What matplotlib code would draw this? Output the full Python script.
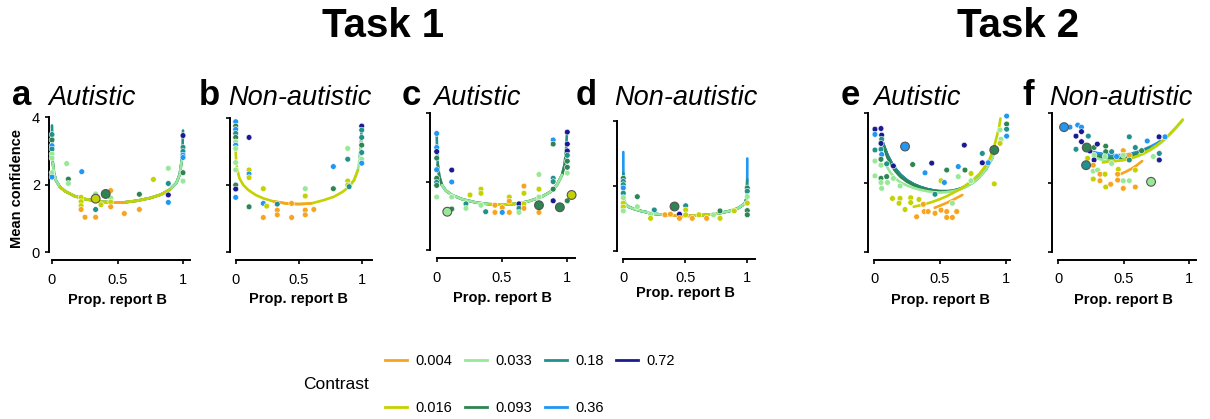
import matplotlib
matplotlib.use("Agg")
import matplotlib.pyplot as plt
from matplotlib.lines import Line2D
import numpy as np

plt.rcParams["font.family"] = ["Liberation Sans", "DejaVu Sans"]

W, H = 1210, 419

# ---- contrast levels and their colours ----
CONTRASTS = ["0.004", "0.016", "0.033", "0.093", "0.18", "0.36", "0.72"]
COLORS = ["#F7A51F", "#C3D200", "#98E898", "#2E8452", "#21918C", "#2196F3", "#1B1B8F"]

# ---- panel a (task 1, autistic) ----
A_X = [0, 0, 0, 0, 0, 0, 0, 0, 0.112, 0.227, 0.125, 0.125, 0.222, 0.222, 0.222, 0.222, 0.252,
       0.333, 0.333, 0.333, 0.374, 0.448, 0.448, 0.448, 0.448, 0.552, 0.667, 0.667, 0.774,
       0.888, 0.888, 0.888, 0.888, 1, 1, 1, 1, 1, 1, 1]
A_Y = [3.48, 3.32, 3.15, 3.05, 2.9, 2.78, 2.35, 2.22, 2.62, 2.38, 2.16, 2.03, 1.62, 1.49, 1.37, 1.26, 1.03,
       1.72, 1.26, 1.03, 1.40, 1.82, 1.6, 1.48, 1.34, 1.14, 1.71, 1.26, 2.15,
       2.48, 2.03, 1.69, 1.47, 3.45, 3.1, 2.98, 2.87, 2.8, 2.35, 2.1]
A_C = [4, 3, 5, 4, 2, 2, 2, 5, 2, 5, 3, 2, 1, 1, 1, 0, 0,
       2, 4, 0, 1, 0, 2, 1, 0, 0, 3, 0, 1,
       2, 4, 6, 5, 6, 4, 4, 5, 5, 3, 2]
A_BIG_X = [0.333, 0.41]
A_BIG_Y = [1.58, 1.72]
A_BIG_C = [1, 3]
A_CURVE_X = [0.0, 0.002, 0.006, 0.015, 0.03, 0.06, 0.1, 0.17, 0.25, 0.35, 0.45, 0.55, 0.65, 0.75,
             0.83, 0.9, 0.95, 0.975, 0.99, 0.997, 1.0]
A_CURVE_Y = [3.75, 3.2, 2.65, 2.35, 2.12, 1.93, 1.8, 1.66, 1.57, 1.5, 1.47, 1.47, 1.52, 1.6,
             1.7, 1.85, 2.05, 2.3, 2.7, 3.15, 3.6]
A_SEGS = [(4, 0.0, 1.0), (3, 0.003, 0.997), (2, 0.006, 0.99), (1, 0.06, 0.9), (0, 0.45, 0.55)]

# ---- panel b (task 1, non-autistic) ----
B_X = [0, 0, 0, 0, 0, 0, 0, 0, 0, 0, 0, 0, 0,
       0.106, 0.106, 0.106, 0.106, 0.106, 0.219, 0.219, 0.246, 0.219, 0.33, 0.33, 0.33, 0.444, 0.444,
       0.552, 0.552, 0.552, 0.552, 0.62, 0.775, 0.775, 0.889, 0.889, 0.889, 0.889, 0.9,
       1, 1, 1, 1, 1, 1, 1]
B_Y = [3.89, 3.76, 3.66, 3.54, 3.42, 3.29, 3.19, 3.09, 2.67, 2.45, 2.0, 1.88, 1.63,
       3.42, 2.45, 2.33, 2.22, 1.35, 1.89, 1.45, 1.37, 1.03, 1.43, 1.25, 1.11, 1.45, 1.03,
       1.89, 1.67, 1.25, 1.11, 1.27, 2.55, 1.89, 3.09, 2.77, 2.12, 2.0, 1.95,
       3.76, 3.64, 3.42, 3.19, 2.97, 2.77, 2.65]
B_C = [5, 3, 5, 4, 3, 2, 5, 2, 2, 2, 3, 6, 5,
       6, 1, 5, 1, 3, 1, 5, 1, 0, 4, 0, 0, 0, 0,
       2, 1, 0, 0, 0, 5, 3, 2, 4, 1, 1, 4,
       6, 4, 4, 3, 4, 2, 5]
B_CURVE_X = [0.0, 0.003, 0.01, 0.03, 0.06, 0.1, 0.16, 0.22, 0.3, 0.4, 0.5, 0.6, 0.7, 0.78,
             0.85, 0.9, 0.94, 0.97, 0.985, 0.995, 1.0]
B_CURVE_Y = [3.0, 2.75, 2.5, 2.2, 2.0, 1.85, 1.7, 1.6, 1.51, 1.45, 1.43, 1.45, 1.55, 1.65,
             1.8, 1.95, 2.15, 2.45, 2.8, 3.3, 3.75]
B_SEGS = [(4, 0.985, 1.0), (2, 0.9, 0.995), (1, 0.0, 0.97), (0, 0.3, 0.6)]

# ---- panel c (task 1, autistic) ----
C_X = [0, 0, 0, 0, 0, 0, 0, 0, 0,
       0.115, 0.115, 0.115, 0.115, 0.224, 0.224, 0.255, 0.339, 0.339, 0.339, 0.375, 0.446, 0.446,
       0.502, 0.502, 0.556, 0.556, 0.556, 0.63, 0.63, 0.63, 0.668, 0.668, 0.668, 0.668,
       0.783, 0.783, 0.783, 0.783, 0.892, 0.892, 0.892, 0.892, 0.892, 0.892, 1.0,
       1, 1, 1, 1, 1, 1, 1]
C_Y = [3.41, 3.0, 2.88, 2.69, 2.35, 2.1, 1.98, 1.89, 1.55,
       2.34, 1.99, 1.55, 1.2, 1.35, 1.22, 1.61, 1.78, 1.66, 1.31, 1.12, 1.31, 1.1,
       1.24, 1.1, 1.55, 1.43, 1.1, 1.35, 1.22, 1.1, 1.87, 1.66, 1.35, 1.22,
       2.21, 1.78, 1.55, 1.1, 3.22, 3.1, 2.1, 2.0, 1.78, 1.44, 1.44,
       3.45, 3.1, 2.9, 2.77, 2.6, 2.42, 2.25]
C_C = [5, 5, 6, 3, 5, 3, 4, 3, 2,
       6, 5, 2, 3, 4, 2, 1, 1, 1, 2, 4, 0, 0,
       0, 5, 1, 0, 0, 6, 4, 2, 0, 1, 1, 0,
       2, 1, 2, 0, 5, 3, 4, 4, 3, 6, 3,
       6, 6, 6, 4, 3, 3, 2]
C_BIG_X = [0.081, 0.783, 0.943, 1.033]
C_BIG_Y = [1.12, 1.31, 1.25, 1.61]
C_BIG_C = [2, 3, 3, 1]
C_CURVE_X = [0.0, 0.003, 0.008, 0.02, 0.04, 0.07, 0.12, 0.2, 0.3, 0.4, 0.5, 0.6, 0.7, 0.8,
             0.87, 0.92, 0.96, 0.98, 0.99, 0.997]
C_CURVE_Y = [3.4, 2.9, 2.5, 2.15, 1.9, 1.74, 1.6, 1.48, 1.39, 1.34, 1.33, 1.35, 1.42, 1.55,
             1.7, 1.9, 2.2, 2.5, 2.9, 3.4]
C_SEGS = [(4, 0.0, 1.0), (3, 0.008, 0.99), (2, 0.04, 0.96), (1, 0.4, 0.6)]

# ---- panel d (task 1, non-autistic) ----
D_X = [0, 0, 0, 0, 0, 0, 0, 0, 0,
       0.113, 0.113, 0.25, 0.22, 0.22, 0.336, 0.38, 0.453, 0.453, 0.503, 0.503, 0.503,
       0.556, 0.61, 0.672, 0.727, 0.78, 0.78, 0.895,
       1, 1, 1, 1, 1, 1]
D_Y = [2.24, 2.14, 2.04, 1.94, 1.78, 1.64, 1.47, 1.35, 1.23,
       1.67, 1.36, 1.26, 1.13, 1.0, 1.11, 1.13, 1.13, 1.0, 1.39, 1.26, 1.11,
       1.0, 1.11, 1.0, 1.11, 1.23, 1.0, 1.23,
       1.94, 1.84, 1.67, 1.47, 1.24, 1.11]
D_C = [3, 4, 4, 5, 4, 2, 1, 1, 2,
       3, 2, 4, 2, 1, 0, 0, 6, 0, 4, 1, 1,
       0, 1, 0, 2, 3, 1, 1,
       3, 4, 2, 1, 3, 3]
D_BIG_X = [0.41]
D_BIG_Y = [1.39]
D_BIG_C = [3]
D_CURVE_X = [0.0, 0.0005, 0.002, 0.006, 0.015, 0.04, 0.08, 0.15, 0.25, 0.35, 0.45, 0.55, 0.65,
             0.75, 0.85, 0.92, 0.96, 0.985, 0.995, 0.9995, 1.0]
D_CURVE_Y = [3.05, 2.4, 1.9, 1.6, 1.45, 1.36, 1.3, 1.22, 1.14, 1.1, 1.08, 1.08, 1.1,
             1.14, 1.22, 1.3, 1.4, 1.5, 1.65, 2.2, 2.85]
D_SEGS = [(5, 0.0, 1.0), (4, 0.0005, 0.9995), (3, 0.002, 0.998), (2, 0.006, 0.985),
          (1, 0.3, 0.75), (0, 0.35, 0.55)]

# ---- panel e (task 2, autistic) ----
E_X = [0.005, 0.051, 0.005, 0.056, 0.056, 0.051, 0.005, 0.051, 0.056, 0.005, 0.051, 0.051, 0.094,
       0.005, 0.051, 0.051, 0.094, 0.1, 0.056, 0.145, 0.145, 0.196, 0.138, 0.196, 0.188, 0.234,
       0.277, 0.277, 0.292, 0.322, 0.34, 0.373, 0.38, 0.41, 0.386, 0.437, 0.462, 0.508, 0.508,
       0.533, 0.462, 0.551, 0.551, 0.551, 0.594, 0.627, 0.594, 0.639, 0.685, 0.69, 0.639, 0.736,
       0.736, 0.822, 0.822, 0.867, 0.913, 0.957, 1.007, 1.007, 1.007, 1.007, 0.964, 0.957]
E_Y = [3.54, 3.56, 3.39, 3.37, 3.25, 3.13, 2.94, 2.96, 2.81, 2.62, 2.67, 2.5, 2.54,
       2.19, 2.12, 2.0, 2.17, 2.0, 1.83, 2.48, 2.12, 1.9, 1.54, 1.54, 1.4, 1.22,
       1.56, 1.42, 2.52, 1.01, 1.51, 1.37, 1.16, 1.16, 2.28, 2.56, 1.11, 2.05, 1.2,
       2.0, 1.66, 2.36, 1.16, 0.99, 0.99, 1.16, 1.4, 2.46, 3.08, 2.36, 2.17, 2.26,
       2.05, 2.84, 2.57, 2.57, 1.96, 3.52, 3.92, 3.69, 3.54, 3.34, 3.25, 3.13]
E_C = [6, 6, 5, 6, 4, 6, 4, 4, 5, 2, 3, 2, 4,
       2, 3, 2, 3, 2, 2, 6, 2, 2, 1, 1, 1, 1,
       1, 1, 3, 0, 1, 0, 0, 0, 5, 6, 0, 1, 0,
       5, 4, 3, 0, 0, 0, 0, 2, 5, 6, 3, 2, 1,
       2, 4, 6, 5, 1, 2, 5, 3, 4, 5, 2, 1]
E_BIG_X = [0.234, 0.913]
E_BIG_Y = [3.04, 2.94]
E_BIG_C = [5, 3]
E_CURVES = {
    6: ([0.06, 0.08, 0.1, 0.13, 0.16, 0.2, 0.25, 0.3, 0.35, 0.4, 0.45],
        [3.2, 3.0, 2.8, 2.58, 2.4, 2.22, 2.06, 1.95, 1.87, 1.81, 1.77]),
    5: ([0.06, 0.08, 0.1, 0.13, 0.16, 0.2, 0.25, 0.3, 0.35, 0.4, 0.45, 0.5, 0.55],
        [3.18, 2.98, 2.79, 2.57, 2.4, 2.22, 2.06, 1.95, 1.87, 1.81, 1.77, 1.75, 1.75]),
    4: ([0.065, 0.08, 0.1, 0.13, 0.16, 0.2, 0.25, 0.3, 0.35, 0.4, 0.45, 0.5, 0.55, 0.6, 0.65,
         0.7, 0.75, 0.8],
        [3.15, 2.98, 2.79, 2.57, 2.4, 2.22, 2.06, 1.95, 1.87, 1.81, 1.77, 1.75, 1.75, 1.77, 1.82,
         1.9, 2.0, 2.15]),
    3: ([0.07, 0.1, 0.13, 0.16, 0.2, 0.25, 0.3, 0.35, 0.4, 0.45, 0.5, 0.55, 0.6, 0.65, 0.7,
         0.75, 0.8, 0.85, 0.9],
        [3.05, 2.72, 2.5, 2.33, 2.16, 2.02, 1.92, 1.85, 1.8, 1.76, 1.74, 1.74, 1.76, 1.81, 1.89,
         2.0, 2.16, 2.38, 2.72]),
    2: ([0.09, 0.12, 0.16, 0.2, 0.25, 0.3, 0.35, 0.4, 0.45, 0.5, 0.55, 0.6, 0.65, 0.7, 0.75,
         0.8, 0.85, 0.9, 0.93],
        [2.5, 2.3, 2.12, 2.0, 1.91, 1.84, 1.79, 1.75, 1.72, 1.71, 1.72, 1.75, 1.8, 1.88, 1.99,
         2.15, 2.38, 2.72, 3.0]),
    1: ([0.3, 0.35, 0.4, 0.45, 0.5, 0.55, 0.6, 0.65, 0.7, 0.75, 0.8, 0.85, 0.88, 0.91, 0.93,
         0.95, 0.96],
        [1.3, 1.34, 1.39, 1.45, 1.52, 1.6, 1.7, 1.8, 1.93, 2.07, 2.25, 2.5, 2.7, 3.0, 3.3,
         3.6, 3.85]),
    0: ([0.46, 0.5, 0.55, 0.6, 0.65, 0.67],
        [1.27, 1.33, 1.41, 1.5, 1.6, 1.64]),
}

# ---- panel f (task 2, non-autistic) ----
F_X = [0.089, 0.148, 0.177, 0.177, 0.135, 0.177, 0.229, 0.135, 0.242, 0.273, 0.298, 0.273,
       0.273, 0.224, 0.267, 0.267, 0.3, 0.318, 0.357, 0.267, 0.318, 0.362, 0.362, 0.357, 0.362,
       0.4, 0.407, 0.445, 0.407, 0.458, 0.453, 0.453, 0.496, 0.496, 0.496, 0.496, 0.542, 0.542,
       0.542, 0.542, 0.588, 0.588, 0.588, 0.636, 0.679, 0.725, 0.769, 0.815, 0.771, 0.771]
F_Y = [3.6, 3.66, 3.6, 3.47, 3.34, 3.18, 3.34, 2.96, 2.91, 3.01, 3.11, 2.79,
       2.65, 2.7, 2.5, 2.33, 2.36, 2.24, 2.24, 2.1, 2.05, 3.05, 2.89, 2.75, 1.87,
       1.95, 2.89, 2.75, 2.55, 2.38, 2.24, 2.07, 2.92, 2.79, 2.05, 1.83, 3.32, 2.79,
       2.65, 2.05, 3.01, 2.36, 1.87, 2.92, 3.2, 2.75, 3.32, 3.32, 2.84, 2.65]
F_C = [5, 5, 5, 6, 6, 6, 4, 4, 6, 3, 6, 2,
       6, 1, 0, 2, 2, 0, 1, 1, 0, 3, 3, 2, 1,
       0, 4, 5, 2, 1, 0, 0, 0, 2, 2, 0, 4, 0,
       4, 2, 4, 1, 0, 3, 5, 2, 6, 5, 4, 6]
F_BIG_X = [0.044, 0.217, 0.212, 0.708]
F_BIG_Y = [3.6, 3.01, 2.5, 2.02]
F_BIG_C = [5, 3, 4, 2]
F_CURVES = {
    6: ([0.25, 0.3, 0.35, 0.4, 0.45, 0.5],
        [2.88, 2.84, 2.81, 2.79, 2.78, 2.79]),
    5: ([0.24, 0.3, 0.35, 0.4, 0.45, 0.5, 0.55, 0.6, 0.65, 0.7, 0.75, 0.78],
        [2.9, 2.85, 2.82, 2.8, 2.79, 2.8, 2.83, 2.88, 2.95, 3.03, 3.13, 3.2]),
    4: ([0.27, 0.3, 0.35, 0.4, 0.45, 0.5, 0.55, 0.6, 0.65, 0.7],
        [2.82, 2.79, 2.76, 2.74, 2.74, 2.76, 2.8, 2.86, 2.93, 3.02]),
    3: ([0.28, 0.32, 0.36, 0.4, 0.45, 0.5, 0.55, 0.6],
        [2.76, 2.72, 2.7, 2.69, 2.7, 2.72, 2.76, 2.82]),
    2: ([0.28, 0.32, 0.36, 0.4, 0.45, 0.5, 0.55, 0.6, 0.65, 0.7, 0.75, 0.8, 0.85, 0.9, 0.95],
        [2.72, 2.67, 2.64, 2.63, 2.63, 2.65, 2.69, 2.75, 2.83, 2.93, 3.05, 3.2, 3.38, 3.58, 3.8]),
    1: ([0.34, 0.38, 0.42, 0.46, 0.5, 0.55, 0.6, 0.65, 0.7, 0.75, 0.8, 0.85, 0.9, 0.95],
        [2.58, 2.6, 2.61, 2.63, 2.65, 2.7, 2.76, 2.84, 2.95, 3.07, 3.22, 3.4, 3.6, 3.82]),
    0: ([0.48, 0.52, 0.56, 0.6, 0.64],
        [2.25, 2.32, 2.4, 2.5, 2.62]),
}


fig = plt.figure(figsize=(W / 100, H / 100), dpi=100)


def make_axes(x0, x1, y0, y4, left_gap, spine_end, label_y=-0.22):
    """Axes placed by pixel position of x=0, x=1, y=0, y=4."""
    ppx = x1 - x0
    ppy = (y0 - y4) / 4
    xlo, xhi = -left_gap / ppx, 1.12
    ylo, yhi = -8 / ppy, 4.15
    left, right = x0 + xlo * ppx, x0 + xhi * ppx
    bottom, top = y0 - ylo * ppy, y0 - yhi * ppy
    ax = fig.add_axes([left / W, 1 - bottom / H, (right - left) / W, (bottom - top) / H])
    ax.set_xlim(xlo, xhi)
    ax.set_ylim(ylo, yhi)
    ax.patch.set_visible(False)
    for s in ("top", "right"):
        ax.spines[s].set_visible(False)
    for s in ("left", "bottom"):
        ax.spines[s].set_linewidth(1.4)
    ax.spines["left"].set_bounds(0, 4)
    ax.spines["bottom"].set_bounds(0, spine_end)
    ax.set_xticks([0, 0.5, 1])
    ax.set_xticklabels(["0", "0.5", "1"])
    ax.set_yticks([0, 2, 4])
    ax.tick_params(direction="out", length=3, width=1.2, labelsize=10.5)
    ax.tick_params(axis="x", pad=6)
    ax.set_xlabel("Prop. report B", fontsize=10.5, fontweight="bold")
    ax.xaxis.set_label_coords((0.5 - xlo) / (xhi - xlo), label_y)
    return ax


def draw_points(ax, xs, ys, cs, bx=(), by=(), bc=()):
    ax.scatter(xs, ys, s=17, c=[COLORS[c] for c in cs], edgecolors="white",
               linewidths=0.4, zorder=3, clip_on=False)
    if len(bx):
        ax.scatter(bx, by, s=40, c=[COLORS[c] for c in bc], edgecolors="#555555",
                   linewidths=0.8, zorder=4, clip_on=False)


def draw_shared_curve(ax, cx, cy, segs):
    cx, cy = np.asarray(cx), np.asarray(cy)
    for ci, lo, hi in segs:
        m = (cx >= lo) & (cx <= hi)
        ax.plot(cx[m], cy[m], color=COLORS[ci], lw=1.9, solid_capstyle="round", zorder=2)


def draw_curves(ax, curves):
    for ci in sorted(curves, reverse=True):
        xs, ys = curves[ci]
        ax.plot(xs, ys, color=COLORS[ci], lw=1.9, solid_capstyle="round", zorder=2)


# panel geometry (pixel positions of x=0, x=1, y=0, y=4)
ax_a = make_axes(52, 183, 252, 117, 3, 1.05)
ax_b = make_axes(235.7, 361.7, 252, 118, 5.7, 1.08)
ax_c = make_axes(436.7, 567.3, 250, 113.3, 6.7, 1.06)
ax_d = make_axes(623.3, 747.3, 250.7, 121.3, 6.3, 1.06, label_y=-0.19)
ax_e = make_axes(874.3, 1005.7, 251.7, 113.3, 6.3, 1.03)
ax_f = make_axes(1058.3, 1189.3, 251.7, 113.3, 6.3, 1.05)

ax_a.set_yticklabels(["0", "2", "4"])
for ax in (ax_b, ax_c, ax_d, ax_e, ax_f):
    ax.set_yticklabels([])

draw_shared_curve(ax_a, A_CURVE_X, A_CURVE_Y, A_SEGS)
draw_points(ax_a, A_X, A_Y, A_C, A_BIG_X, A_BIG_Y, A_BIG_C)

draw_shared_curve(ax_b, B_CURVE_X, B_CURVE_Y, B_SEGS)
draw_points(ax_b, B_X, B_Y, B_C)

draw_shared_curve(ax_c, C_CURVE_X, C_CURVE_Y, C_SEGS)
draw_points(ax_c, C_X, C_Y, C_C, C_BIG_X, C_BIG_Y, C_BIG_C)

draw_shared_curve(ax_d, D_CURVE_X, D_CURVE_Y, D_SEGS)
draw_points(ax_d, D_X, D_Y, D_C, D_BIG_X, D_BIG_Y, D_BIG_C)

draw_curves(ax_e, E_CURVES)
draw_points(ax_e, E_X, E_Y, E_C, E_BIG_X, E_BIG_Y, E_BIG_C)

draw_curves(ax_f, F_CURVES)
draw_points(ax_f, F_X, F_Y, F_C, F_BIG_X, F_BIG_Y, F_BIG_C)

# ---- headings and panel letters ----
fig.text(383 / W, 1 - 26 / H, "Task 1", fontsize=29, fontweight="bold", ha="center", va="center")
fig.text(1018 / W, 1 - 26 / H, "Task 2", fontsize=29, fontweight="bold", ha="center", va="center")

for letter, lx, title, tx in (("a", 12, "Autistic", 48), ("b", 199, "Non-autistic", 228),
                              ("c", 402, "Autistic", 433), ("d", 576, "Non-autistic", 614),
                              ("e", 841, "Autistic", 873), ("f", 1022, "Non-autistic", 1049)):
    fig.text(lx / W, 1 - 105 / H, letter, fontsize=25, fontweight="bold", va="baseline")
    fig.text(tx / W, 1 - 105 / H, title, fontsize=19.5, fontstyle="italic", va="baseline")

fig.text(17 / W, 1 - 188 / H, "Mean confidence", fontsize=10.5, fontweight="bold",
         rotation=90, ha="center", va="center")

# ---- contrast legend ----
handles = [Line2D([], [], color=c, lw=2) for c in COLORS]
fig.legend(handles, CONTRASTS, ncol=4, loc="upper left", bbox_to_anchor=(385 / W, 1 - 354 / H),
           frameon=False, fontsize=10.5, handlelength=1.5, handletextpad=0.6,
           columnspacing=0.85, labelspacing=2.25, borderpad=0, borderaxespad=0)
fig.text(303 / W, 1 - 384 / H, "Contrast", fontsize=12.5, ha="left", va="center")

fig.savefig("out.png", dpi=100)
